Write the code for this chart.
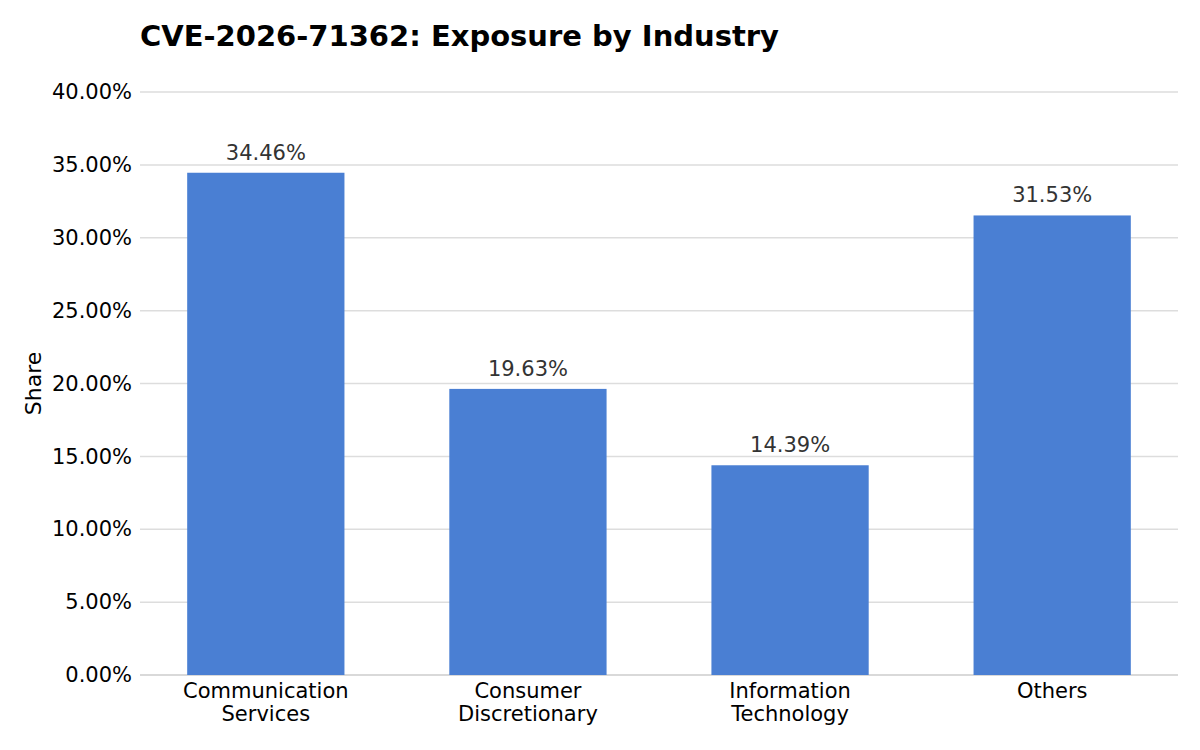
<!DOCTYPE html>
<html>
<head>
<meta charset="utf-8">
<script src="https://cdn.jsdelivr.net/npm/d3@7"></script>
<style>
  body { margin: 0; background: #fff; }
  text { font-family: "DejaVu Sans", sans-serif; }
</style>
</head>
<body>
<div id="chart"></div>
<script>
// data
const industries = [
  ["Communication", "Services"],
  ["Consumer", "Discretionary"],
  ["Information", "Technology"],
  ["Others"],
];
const shares = [34.46, 19.63, 14.39, 31.53];
const yTicks = [0, 5, 10, 15, 20, 25, 30, 35, 40];

const width = 1200;
const height = 750;
const margin = { top: 92, right: 22, bottom: 75, left: 140 };

const svg = d3
  .select("#chart")
  .append("svg")
  .attr("width", width)
  .attr("height", height);

const names = industries.map((d) => d.join(" "));

const x = d3
  .scaleBand()
  .domain(names)
  .range([margin.left, width - margin.right])
  .paddingInner(0.4)
  .paddingOuter(0.18);

const y = d3
  .scaleLinear()
  .domain([0, 40])
  .range([height - margin.bottom, margin.top]);

// gridlines
svg
  .append("g")
  .selectAll("line")
  .data(yTicks)
  .enter()
  .append("line")
  .attr("x1", margin.left)
  .attr("x2", width - margin.right)
  .attr("y1", (d) => y(d))
  .attr("y2", (d) => y(d))
  .attr("stroke", (d) => (d === 0 ? "#cccccc" : "#dddddd"))
  .attr("stroke-width", 1.5);

// y axis labels
const yAxis = svg
  .append("g")
  .attr("transform", `translate(${margin.left},0)`)
  .call(
    d3
      .axisLeft(y)
      .tickValues(yTicks)
      .tickSize(0)
      .tickPadding(8)
      .tickFormat((d) => d.toFixed(2) + "%")
  );
yAxis.select(".domain").remove();
yAxis.selectAll("text").style("font-size", "21px").attr("fill", "#000");

// bars
svg
  .selectAll(".bar")
  .data(shares)
  .enter()
  .append("rect")
  .attr("class", "bar")
  .attr("x", (d, i) => x(names[i]))
  .attr("width", x.bandwidth())
  .attr("y", (d) => y(d))
  .attr("height", (d) => y(0) - y(d))
  .attr("fill", "#4a7fd3");

// value labels
svg
  .selectAll(".value")
  .data(shares)
  .enter()
  .append("text")
  .attr("class", "value")
  .attr("x", (d, i) => x(names[i]) + x.bandwidth() / 2)
  .attr("y", (d) => y(d) - 13)
  .attr("text-anchor", "middle")
  .style("font-size", "21px")
  .attr("fill", "#333")
  .text((d) => d.toFixed(2) + "%");

// x labels (two lines)
const xLabels = svg
  .selectAll(".xlabel")
  .data(industries)
  .enter()
  .append("text")
  .attr("class", "xlabel")
  .attr("x", (d, i) => x(names[i]) + x.bandwidth() / 2)
  .attr("y", y(0) + 23)
  .attr("text-anchor", "middle")
  .style("font-size", "21px")
  .attr("fill", "#000");

xLabels
  .selectAll("tspan")
  .data((d) => d)
  .enter()
  .append("tspan")
  .attr("x", function () {
    return this.parentNode.getAttribute("x");
  })
  .attr("dy", (d, i) => (i === 0 ? 0 : 23))
  .text((d) => d);

// y axis title
svg
  .append("text")
  .attr("transform", `translate(41,${(y(0) + y(40)) / 2}) rotate(-90)`)
  .attr("text-anchor", "middle")
  .style("font-size", "22px")
  .attr("fill", "#000")
  .text("Share");

// title
svg
  .append("text")
  .attr("x", margin.left)
  .attr("y", 46)
  .style("font-size", "29px")
  .style("font-weight", "bold")
  .attr("fill", "#000")
  .text("CVE-2026-71362: Exposure by Industry");
</script>
</body>
</html>
